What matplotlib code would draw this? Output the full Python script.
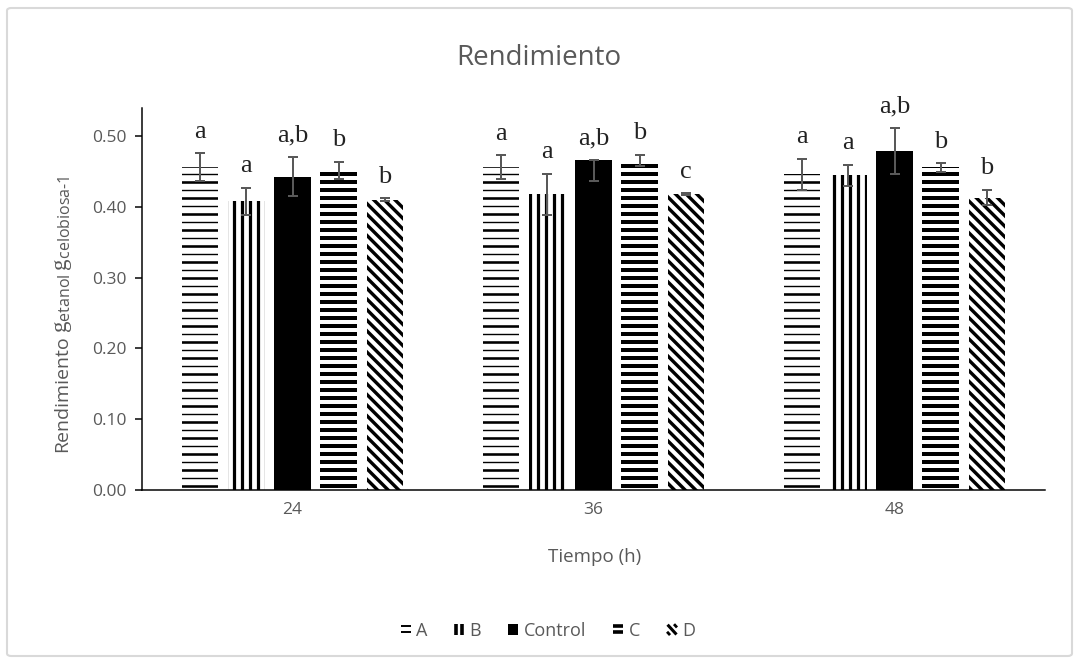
import matplotlib
matplotlib.use("Agg")
import matplotlib.pyplot as plt
import numpy as np
from matplotlib.collections import LineCollection
from matplotlib.transforms import IdentityTransform
from matplotlib.patches import FancyBboxPatch, Rectangle
from matplotlib.legend_handler import HandlerBase
from matplotlib.lines import Line2D

# ---- data -------------------------------------------------------------
tiempos = ["24", "36", "48"]
series = ["A", "B", "Control", "C", "D"]

rend_A = [0.456, 0.456, 0.446]
rend_B = [0.408, 0.418, 0.445]
rend_control = [0.443, 0.466, 0.479]
rend_C = [0.452, 0.466, 0.456]
rend_D = [0.410, 0.418, 0.413]

err_A = [0.020, 0.017, 0.022]
err_B = [0.019, 0.029, 0.015]
err_control_low = [0.028, 0.030, 0.032]
err_control_high = [0.028, 0.000, 0.032]
err_C = [0.012, 0.008, 0.006]
err_D = [0.002, 0.001, 0.011]

letras_A = ["a", "a", "a"]
letras_B = ["a", "a", "a"]
letras_control = ["a,b", "a,b", "a,b"]
letras_C = ["b", "b", "b"]
letras_D = ["b", "c", "b"]

# ---- style ------------------------------------------------------------
GRAY = "#595959"
plt.rcParams["font.family"] = ["Open Sans", "DejaVu Sans"]
plt.rcParams["mathtext.fontset"] = "custom"
plt.rcParams["mathtext.rm"] = "Open Sans"
plt.rcParams["mathtext.it"] = "Open Sans:italic"
plt.rcParams["mathtext.bf"] = "Open Sans:bold"
plt.rcParams["mathtext.sf"] = "Liberation Serif"

W, H = 1080, 664
PX = 72.0 / 100.0  # points per pixel at 100 dpi

fig = plt.figure(figsize=(W / 100, H / 100), dpi=100)
fig.patch.set_facecolor("white")

# light rounded frame around the chart
frame = FancyBboxPatch((7 / W, 8 / H), (W - 15) / W, (H - 16) / H,
                       boxstyle="round,pad=0,rounding_size=0.004",
                       transform=fig.transFigure, facecolor="none",
                       edgecolor="#D9D9D9", linewidth=1.5)
fig.patches.append(frame)

AX_L, AX_R, AX_B, AX_T = 142, 1045, 489.5, 108
ax = fig.add_axes([AX_L / W, (H - AX_B) / H, (AX_R - AX_L) / W,
                   (AX_B - AX_T) / H])
ax.set_xlim(-0.5, 2.5)
ax.set_ylim(0, 0.54)

x = np.arange(len(tiempos))
pitch = 0.1535
width = 0.121

values = [rend_A, rend_B, rend_control, rend_C, rend_D]
err_lo = [err_A, err_B, err_control_low, err_C, err_D]
err_hi = [err_A, err_B, err_control_high, err_C, err_D]
letters = [letras_A, letras_B, letras_control, letras_C, letras_D]
patterns = ["thin_h", "vert", "solid", "thick_h", "diag"]


def stripe(rect, kind):
    """Fill one bar with a line pattern drawn in pixel space."""
    bb = rect.get_window_extent()
    segs, lws = [], []
    if kind == "thin_h":
        sp = 8.0
        k0 = int(np.floor(bb.y0 / sp))
        k1 = int(np.ceil(bb.y1 / sp))
        for k in range(k0, k1 + 1):
            y = k * sp + 2
            segs.append([(bb.x0 - 2, y), (bb.x1 + 2, y)])
            lws.append((2.6 if k % 2 == 0 else 1.4) * PX)
    elif kind == "thick_h":
        sp = 8.0
        k0 = int(np.floor(bb.y0 / sp))
        k1 = int(np.ceil(bb.y1 / sp))
        for k in range(k0, k1 + 1):
            y = k * sp + 2
            segs.append([(bb.x0 - 2, y), (bb.x1 + 2, y)])
            lws.append(4.0 * PX)
    elif kind == "vert":
        sp = 8.0
        k0 = int(np.floor(bb.x0 / sp))
        k1 = int(np.ceil(bb.x1 / sp))
        for k in range(k0, k1 + 1):
            xx = k * sp + 1.5
            segs.append([(xx, bb.y0 - 2), (xx, bb.y1 + 2)])
            lws.append(3.2 * PX)
    elif kind == "diag":
        sp = 7.5 * np.sqrt(2)
        c0 = bb.x0 + bb.y0
        c1 = bb.x1 + bb.y1
        k0 = int(np.floor(c0 / sp))
        k1 = int(np.ceil(c1 / sp))
        for k in range(k0, k1 + 1):
            c = k * sp
            segs.append([(c - bb.y1 - 5, bb.y1 + 5), (c - bb.y0 + 5, bb.y0 - 5)])
            lws.append(3.4 * PX)
    lc = LineCollection(segs, colors="black", linewidths=lws,
                        transform=IdentityTransform(), capstyle="butt",
                        zorder=3)
    ax.add_collection(lc)
    lc.set_clip_path(rect)


for i, (vals, lo, hi, labs, pat) in enumerate(zip(values, err_lo, err_hi,
                                                   letters, patterns)):
    xi = x + (i - 2) * pitch
    face = "black" if pat == "solid" else "white"
    bars = ax.bar(xi, vals, width=width, color=face, edgecolor="none",
                  linewidth=0, zorder=2, label=series[i])
    if pat != "solid":
        for r in bars:
            stripe(r, pat)
    ax.errorbar(xi, vals, yerr=[lo, hi], fmt="none", ecolor=GRAY,
                elinewidth=2.0 * PX, capsize=3.6, capthick=2.0 * PX,
                zorder=5)
    for xv, v, h, t in zip(xi, vals, hi, labs):
        ax.text(xv, v + h + 0.022, t, ha="center", va="baseline",
                fontsize=19, family="Liberation Serif", color="#222222",
                zorder=6)

# ---- axes -------------------------------------------------------------
for s in ["top", "right"]:
    ax.spines[s].set_visible(False)
for s in ["left", "bottom"]:
    ax.spines[s].set_color("black")
    ax.spines[s].set_linewidth(1.5 * PX)
    ax.spines[s].set_zorder(7)

ax.set_yticks(np.arange(0, 0.51, 0.1))
ax.set_yticklabels([f"{v:.2f}" for v in np.arange(0, 0.51, 0.1)])
ax.tick_params(axis="y", length=5, width=1.5 * PX, color="black",
               labelsize=12.5, labelcolor=GRAY, pad=6)
ax.set_xticks(x)
ax.set_xticklabels(tiempos)
ax.tick_params(axis="x", length=0, labelsize=12.5, labelcolor=GRAY, pad=9)

fig.text(595 / W, 1 - 557 / H, "Tiempo (h)", ha="center", va="center",
         fontsize=13.5, color=GRAY)

# y label: plain word followed by serif g's with subscripts
renderer = fig.canvas.get_renderer()
yl_x = 67 / W
yl_start = 452
t1 = fig.text(yl_x, (H - yl_start) / H, "Rendimiento", rotation=90,
              rotation_mode="anchor", ha="left", va="baseline",
              fontsize=14, color=GRAY)
len1 = t1.get_window_extent(renderer).height
fig.text(yl_x, (H - yl_start + len1 + 2) / H,
         r"$\mathsf{g}_{\mathrm{etanol}}\,\mathsf{g}_{\mathrm{celobiosa\text{-}1}}$",
         rotation=90, rotation_mode="anchor", ha="left", va="baseline",
         fontsize=16.5, color=GRAY)

fig.text(539 / W, 1 - 58 / H, "Rendimiento", ha="center", va="center",
         fontsize=20, color=GRAY)


# ---- legend -----------------------------------------------------------
class PatternHandler(HandlerBase):
    def __init__(self, kind):
        super().__init__()
        self.kind = kind

    def create_artists(self, legend, orig_handle, xdescent, ydescent,
                       width, height, fontsize, trans):
        x0, y0 = -xdescent, -ydescent
        arts = []

        def seg(u0, v0, u1, v1, lw):
            # u to the right, v downward from the swatch's top-left corner
            ln = Line2D([x0 + u0 * width, x0 + u1 * width],
                        [y0 + (1 - v0) * height, y0 + (1 - v1) * height],
                        color="black", lw=lw, solid_capstyle="butt")
            arts.append(ln)

        if self.kind == "solid":
            arts.append(Rectangle((x0, y0), width, height, facecolor="black",
                                  edgecolor="none"))
        elif self.kind == "thin_h":
            seg(0, 0.2, 1, 0.2, 1.4)
            seg(0, 0.75, 1, 0.75, 1.4)
        elif self.kind == "thick_h":
            seg(0, 0.2, 1, 0.2, 2.6)
            seg(0, 0.75, 1, 0.75, 2.6)
        elif self.kind == "vert":
            seg(0.2, 0, 0.2, 1, 2.6)
            seg(0.75, 0, 0.75, 1, 2.6)
        elif self.kind == "diag":
            seg(0.05, 0.05, 0.95, 0.95, 2.2)
            seg(0.7, 0.0, 1.0, 0.3, 2.0)
            seg(0.0, 0.7, 0.3, 1.0, 2.0)
        for a in arts:
            a.set_transform(trans)
        return arts


proxies = [Rectangle((0, 0), 1, 1) for _ in series]
hmap = {p: PatternHandler(k) for p, k in zip(proxies, patterns)}
fig.legend(proxies, series, handler_map=hmap, loc="center",
           bbox_to_anchor=(548 / W, 1 - 631 / H), ncol=5, frameon=False,
           fontsize=13, labelcolor=GRAY, handlelength=0.55, handleheight=0.55,
           handletextpad=0.3, columnspacing=1.5)

fig.savefig("out.png", dpi=100)
